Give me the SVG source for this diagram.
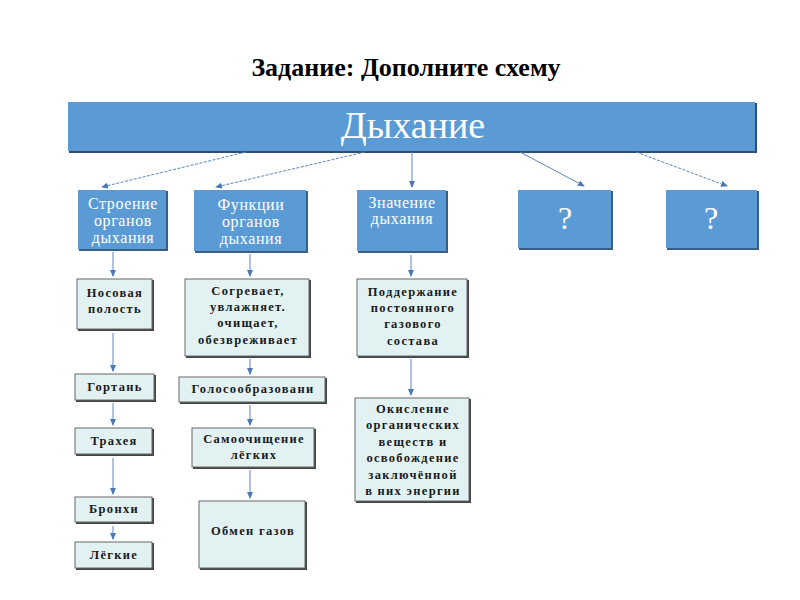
<svg xmlns="http://www.w3.org/2000/svg" width="800" height="600" viewBox="0 0 800 600">
<defs>
<style>
.title{font-family:"Liberation Serif",serif;font-weight:bold;font-size:26px;fill:#000}
.topshadow{fill:#2f4f6f}
.blue{fill:#5b9bd5}
.bshadow{fill:#3a5f85}
.wt{font-family:"Liberation Serif",serif;font-size:16px;letter-spacing:0.6px;fill:#fff;text-anchor:middle}
.q{font-family:"Liberation Serif",serif;font-size:32px;fill:#fff;text-anchor:middle}
.lb{fill:#e2f2f2;stroke:#666;stroke-width:1}
.lshadow{fill:#444}
.bt{font-family:"Liberation Serif",serif;font-weight:bold;font-size:12.5px;letter-spacing:1.3px;fill:#1a1a1a;text-anchor:middle}
.c{stroke:#5a86c0;stroke-width:1;fill:none;marker-end:url(#ah)}
.d{stroke-dasharray:3 1.5}
</style>
<marker id="ah" markerWidth="7" markerHeight="6" refX="6" refY="3" orient="auto" markerUnits="userSpaceOnUse">
<path d="M0,0 L7,3 L0,6 Z" fill="#4a78b5"/>
</marker>
</defs>
<rect width="800" height="600" fill="#fff"/>
<text class="title" x="406" y="76" text-anchor="middle">Задание: Дополните схему</text>

<g id="node-dyhanie">
<rect class="topshadow" x="69" y="103" width="688" height="50"/>
<rect x="68" y="102" width="687" height="49" fill="#5b9bd5"/>
<text x="413" y="138" font-family="Liberation Serif,serif" font-size="38" fill="#fff" text-anchor="middle">Дыхание</text>
</g>

<g id="node-stroenie">
<rect class="bshadow" x="79" y="191" width="89" height="60"/>
<rect class="blue" x="78" y="190" width="88" height="59"/>
<text class="wt" x="123" y="209">Строение</text>
<text class="wt" x="123" y="226">органов</text>
<text class="wt" x="123" y="243">дыхания</text>
</g>
<g id="node-funkcii">
<rect class="bshadow" x="195" y="191" width="113" height="62"/>
<rect class="blue" x="194" y="190" width="112" height="61"/>
<text class="wt" x="251" y="210">Функции</text>
<text class="wt" x="251" y="227">органов</text>
<text class="wt" x="251" y="244">дыхания</text>
</g>
<g id="node-znachenie">
<rect class="bshadow" x="358" y="191" width="90" height="62"/>
<rect class="blue" x="357" y="190" width="89" height="61"/>
<text class="wt" x="402" y="208">Значение</text>
<text class="wt" x="402" y="224">дыхания</text>
</g>
<g id="node-q1">
<rect class="bshadow" x="519" y="191" width="94" height="59"/>
<rect class="blue" x="518" y="190" width="93" height="58"/>
<text class="q" x="565" y="229">?</text>
</g>
<g id="node-q2">
<rect class="bshadow" x="667" y="191" width="92" height="59"/>
<rect class="blue" x="666" y="190" width="91" height="58"/>
<text class="q" x="711" y="229">?</text>
</g>

<g id="node-nosovaya">
<rect class="lshadow" x="78" y="280" width="76" height="51"/>
<rect class="lb" x="77" y="279" width="75" height="50"/>
<text class="bt" x="115" y="297">Носовая</text>
<text class="bt" x="115" y="313">полость</text>
</g>
<g id="node-gortan">
<rect class="lshadow" x="76" y="375" width="80" height="27"/>
<rect class="lb" x="75" y="374" width="79" height="26"/>
<text class="bt" x="115" y="391">Гортань</text>
</g>
<g id="node-traheya">
<rect class="lshadow" x="76" y="429" width="78" height="27"/>
<rect class="lb" x="75" y="428" width="77" height="26"/>
<text class="bt" x="114" y="445">Трахея</text>
</g>
<g id="node-bronhi">
<rect class="lshadow" x="76" y="498" width="78" height="26"/>
<rect class="lb" x="75" y="497" width="77" height="25"/>
<text class="bt" x="114" y="513">Бронхи</text>
</g>
<g id="node-legkie">
<rect class="lshadow" x="76" y="543" width="78" height="27"/>
<rect class="lb" x="75" y="542" width="77" height="26"/>
<text class="bt" x="114" y="559">Лёгкие</text>
</g>

<g id="node-sogrevaet">
<rect class="lshadow" x="186" y="280" width="125" height="78"/>
<rect class="lb" x="185" y="279" width="124" height="77"/>
<text class="bt" x="248" y="295">Согревает,</text>
<text class="bt" x="248" y="311">увлажняет.</text>
<text class="bt" x="248" y="327">очищает,</text>
<text class="bt" x="248" y="344">обезвреживает</text>
</g>
<g id="node-golos">
<rect class="lshadow" x="180" y="378" width="147" height="26"/>
<rect class="lb" x="179" y="377" width="146" height="25"/>
<text class="bt" x="253" y="393">Голосообразовани</text>
</g>
<g id="node-samoochishenie">
<rect class="lshadow" x="193" y="429" width="123" height="40"/>
<rect class="lb" x="192" y="428" width="122" height="39"/>
<text class="bt" x="254" y="443">Самоочищение</text>
<text class="bt" x="254" y="459">лёгких</text>
</g>
<g id="node-obmen">
<rect class="lshadow" x="200" y="502" width="107" height="68"/>
<rect class="lb" x="199" y="501" width="106" height="67"/>
<text class="bt" x="253" y="535">Обмен газов</text>
</g>

<g id="node-podderzhanie">
<rect class="lshadow" x="358" y="280" width="111" height="78"/>
<rect class="lb" x="357" y="279" width="110" height="77"/>
<text class="bt" x="413" y="296">Поддержание</text>
<text class="bt" x="413" y="312">постоянного</text>
<text class="bt" x="413" y="328">газового</text>
<text class="bt" x="413" y="345">состава</text>
</g>
<g id="node-okislenie">
<rect class="lshadow" x="356" y="399" width="115" height="104"/>
<rect class="lb" x="355" y="398" width="114" height="103"/>
<text class="bt" x="413" y="413">Окисление</text>
<text class="bt" x="413" y="429">органических</text>
<text class="bt" x="413" y="446">веществ и</text>
<text class="bt" x="413" y="462">освобождение</text>
<text class="bt" x="413" y="479">заключённой</text>
<text class="bt" x="413" y="495">в них энергии</text>
</g>

<g id="connectors">
<line class="c d" x1="246" y1="152" x2="102" y2="187"/>
<line class="c d" x1="365" y1="152" x2="216" y2="187"/>
<line class="c" x1="412" y1="152" x2="412" y2="187"/>
<line class="c" x1="520" y1="152" x2="584" y2="186"/>
<line class="c d" x1="636" y1="152" x2="727" y2="186"/>

<line class="c" x1="113" y1="252" x2="113" y2="276"/>
<line class="c" x1="113" y1="333" x2="113" y2="371"/>
<line class="c" x1="113" y1="403" x2="113" y2="425"/>
<line class="c" x1="113" y1="458" x2="113" y2="494"/>
<line class="c" x1="113" y1="526" x2="113" y2="539"/>

<line class="c" x1="250" y1="254" x2="250" y2="276"/>
<line class="c" x1="250" y1="359" x2="250" y2="374"/>
<line class="c" x1="250" y1="405" x2="250" y2="425"/>
<line class="c" x1="250" y1="470" x2="250" y2="498"/>

<line class="c" x1="411" y1="255" x2="411" y2="276"/>
<line class="c" x1="411" y1="359" x2="411" y2="395"/>
</g>
</svg>
